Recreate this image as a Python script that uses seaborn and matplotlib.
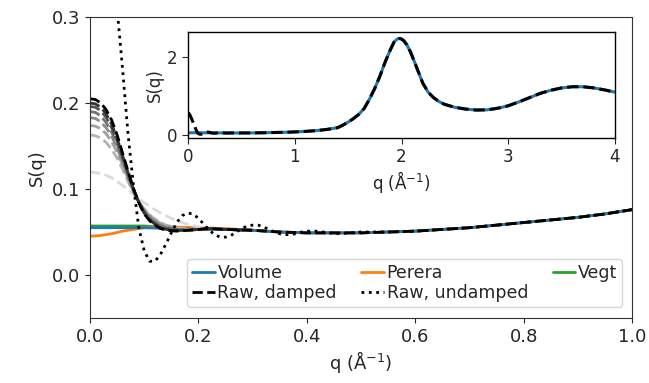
import matplotlib
matplotlib.use("Agg")
import matplotlib.pyplot as plt
import seaborn as sns

# ---- data ----
# low-q region, shared grid for the damped curves
q_low = [0.00, 0.01, 0.02, 0.03, 0.04, 0.05, 0.06, 0.07, 0.08, 0.09, 0.10,
         0.11, 0.12, 0.13, 0.14, 0.16, 0.18, 0.20, 0.22, 0.25, 0.30]
raw_damped_low = [0.205, 0.204, 0.200, 0.192, 0.180, 0.163, 0.142, 0.121, 0.101, 0.084, 0.071,
                  0.063, 0.058, 0.054, 0.052, 0.051, 0.052, 0.053, 0.054, 0.053, 0.052]
# intermediate damping strengths (grey dashed)
damp_1 = [0.200, 0.199, 0.195, 0.187, 0.175, 0.159, 0.139, 0.119, 0.100, 0.084, 0.072,
          0.064, 0.059, 0.055, 0.053, 0.052, 0.052, 0.053, 0.054, 0.053, 0.052]
damp_2 = [0.196, 0.195, 0.191, 0.183, 0.171, 0.156, 0.137, 0.118, 0.100, 0.085, 0.073,
          0.065, 0.060, 0.056, 0.054, 0.052, 0.052, 0.053, 0.054, 0.053, 0.052]
damp_3 = [0.190, 0.189, 0.185, 0.177, 0.166, 0.152, 0.134, 0.116, 0.099, 0.085, 0.074,
          0.066, 0.061, 0.057, 0.055, 0.053, 0.052, 0.053, 0.054, 0.053, 0.052]
damp_4 = [0.183, 0.182, 0.178, 0.171, 0.161, 0.148, 0.131, 0.114, 0.098, 0.085, 0.075,
          0.068, 0.062, 0.058, 0.056, 0.053, 0.053, 0.053, 0.054, 0.053, 0.052]
damp_5 = [0.174, 0.173, 0.170, 0.164, 0.155, 0.143, 0.128, 0.112, 0.097, 0.085, 0.076,
          0.069, 0.064, 0.060, 0.057, 0.054, 0.053, 0.053, 0.054, 0.053, 0.052]
damp_6 = [0.163, 0.162, 0.159, 0.154, 0.146, 0.136, 0.123, 0.109, 0.096, 0.085, 0.077,
          0.070, 0.065, 0.061, 0.058, 0.055, 0.054, 0.053, 0.054, 0.053, 0.052]
damp_7 = [0.120, 0.119, 0.118, 0.116, 0.113, 0.109, 0.104, 0.099, 0.094, 0.089, 0.084,
          0.080, 0.076, 0.072, 0.069, 0.063, 0.059, 0.056, 0.054, 0.053, 0.052]
damp_colors = ["0.2", "0.33", "0.45", "0.55", "0.63", "0.7", "0.86"]

# common curve beyond q = 0.3 (all methods agree there)
q_base = [0.30, 0.35, 0.40, 0.45, 0.50, 0.55, 0.60, 0.65, 0.70, 0.75, 0.80, 0.85, 0.90, 0.95, 1.00,
          1.10, 1.20, 1.30, 1.40, 1.45, 1.50, 1.55, 1.60, 1.65, 1.70, 1.75, 1.80, 1.85, 1.90, 1.93,
          1.96, 1.98, 2.00, 2.02, 2.05, 2.08, 2.10, 2.15, 2.20, 2.25, 2.30, 2.35, 2.40, 2.50, 2.60,
          2.70, 2.80, 2.90, 3.00, 3.10, 3.20, 3.30, 3.40, 3.50, 3.60, 3.70, 3.80, 3.90, 4.00]
s_base = [0.052, 0.050, 0.049, 0.049, 0.049, 0.050, 0.051, 0.053, 0.055, 0.058, 0.061, 0.064, 0.067, 0.071, 0.076,
          0.090, 0.110, 0.140, 0.185, 0.250, 0.330, 0.420, 0.530, 0.680, 0.920, 1.200, 1.530, 1.900, 2.220, 2.390,
          2.470, 2.485, 2.470, 2.430, 2.320, 2.160, 2.030, 1.680, 1.330, 1.100, 0.960, 0.860, 0.790, 0.710, 0.665,
          0.640, 0.645, 0.685, 0.750, 0.850, 0.960, 1.070, 1.150, 1.210, 1.240, 1.240, 1.210, 1.160, 1.100]

q_volume_low = [0.00, 0.05, 0.10, 0.15, 0.20, 0.25]
volume_low = [0.055, 0.055, 0.055, 0.054, 0.053, 0.053]
q_perera_low = [0.00, 0.02, 0.04, 0.06, 0.08, 0.10, 0.12, 0.15, 0.20, 0.25]
perera_low = [0.045, 0.046, 0.048, 0.051, 0.053, 0.055, 0.056, 0.056, 0.055, 0.054]
q_vegt_low = [0.00, 0.05, 0.10, 0.15, 0.20, 0.25]
vegt_low = [0.057, 0.057, 0.057, 0.055, 0.054, 0.053]

q_undamped = [0.00, 0.01, 0.02, 0.03, 0.04, 0.05, 0.06, 0.07, 0.08, 0.09, 0.10, 0.11, 0.12, 0.13,
              0.14, 0.15, 0.16, 0.17, 0.18, 0.19, 0.20, 0.21, 0.22, 0.23, 0.24, 0.25, 0.26, 0.27,
              0.28, 0.29, 0.30, 0.31, 0.32, 0.33, 0.34, 0.35, 0.36, 0.37, 0.38, 0.39, 0.40, 0.42,
              0.44, 0.46, 0.48, 0.50, 0.55, 0.60, 0.65, 0.70, 0.75, 0.80, 0.85, 0.90, 0.95, 1.00]
undamped = [0.57, 0.55, 0.50, 0.44, 0.37, 0.31, 0.24, 0.165, 0.105, 0.055, 0.028, 0.016, 0.016, 0.024,
            0.036, 0.049, 0.061, 0.069, 0.072, 0.071, 0.066, 0.059, 0.052, 0.047, 0.044, 0.044, 0.046, 0.050,
            0.054, 0.057, 0.058, 0.058, 0.056, 0.053, 0.050, 0.048, 0.047, 0.047, 0.048, 0.050, 0.051, 0.051,
            0.049, 0.048, 0.049, 0.050, 0.050, 0.051, 0.053, 0.055, 0.058, 0.061, 0.064, 0.067, 0.071, 0.076]

# assemble full series
n_main = q_base.index(1.00) + 1
q_volume = q_volume_low + q_base
volume = volume_low + s_base
q_perera = q_perera_low + q_base[:n_main]
perera = perera_low + s_base[:n_main]
q_vegt = q_vegt_low + q_base[:n_main]
vegt = vegt_low + s_base[:n_main]
q_damped = q_low + q_base[1:n_main]
raw_damped = raw_damped_low + s_base[1:n_main]
q_raw_inset = q_undamped + q_base[n_main:]
raw_inset = undamped + s_base[n_main:]

sns.set_style("ticks")
plt.rcParams["font.family"] = ["DejaVu Sans"]
pal = sns.color_palette("tab10")

fig = plt.figure(figsize=(6.49, 3.83), dpi=100)
ax = fig.add_axes([0.1387, 0.1697, 0.8351, 0.7859])

# Vegt and Perera sit under the Volume line
sns.lineplot(x=q_vegt, y=vegt, ax=ax, color=pal[2], lw=2, label="Vegt")
sns.lineplot(x=q_perera, y=perera, ax=ax, color=pal[1], lw=2, label="Perera")
sns.lineplot(x=q_volume, y=volume, ax=ax, color=pal[0], lw=2, label="Volume")
for vals, c in zip([damp_7, damp_6, damp_5, damp_4, damp_3, damp_2, damp_1], damp_colors[::-1]):
    sns.lineplot(x=q_low, y=vals, ax=ax, color=c, lw=2, linestyle="--")
sns.lineplot(x=q_damped, y=raw_damped, ax=ax, color="black", lw=2, linestyle="--", label="Raw, damped")
sns.lineplot(x=q_undamped, y=undamped, ax=ax, color="black", lw=2, linestyle=":", label="Raw, undamped")

ax.set_xlim(0, 1)
ax.set_ylim(-0.05, 0.3)
ax.set_xticks([0.0, 0.2, 0.4, 0.6, 0.8, 1.0])
ax.set_yticks([0.0, 0.1, 0.2, 0.3])
ax.set_xlabel(r"q ($\mathrm{\AA}^{-1}$)", fontsize=13, labelpad=2)
ax.set_ylabel("S(q)", fontsize=13)
ax.tick_params(labelsize=13)
for s in ax.spines.values():
    s.set_color("0.2")

handles, labels = ax.get_legend_handles_labels()
order = ["Volume", "Raw, damped", "Perera", "Raw, undamped", "Vegt"]
hmap = dict(zip(labels, handles))
ax.legend([hmap[k] for k in order], order, ncol=3, mode="expand",
          loc="lower left", bbox_to_anchor=(0.179, 0.037, 0.803, 0.19),
          fontsize=12.5, handlelength=1.3, handletextpad=0.15, borderpad=0.3,
          labelspacing=0.1, borderaxespad=0, framealpha=0.8, columnspacing=0.5)

# inset with full q range
ins = fig.add_axes([0.2897, 0.6397, 0.6579, 0.2767])
sns.lineplot(x=q_volume, y=volume, ax=ins, color=pal[0], lw=2.2)
sns.lineplot(x=q_raw_inset, y=raw_inset, ax=ins, color="black", lw=2.2, linestyle="--")
ins.set_xlim(0, 4)
ins.set_ylim(-0.08, 2.65)
ins.set_xticks([0, 1, 2, 3, 4])
ins.set_yticks([0, 2])
ins.tick_params(labelsize=12, length=4)
ins.set_xlabel(r"q ($\mathrm{\AA}^{-1}$)", fontsize=12, labelpad=2)
ins.set_ylabel("S(q)", fontsize=12, labelpad=2)
for s in ins.spines.values():
    s.set_color("black")
    s.set_linewidth(1)

fig.savefig("out.png", dpi=100)
